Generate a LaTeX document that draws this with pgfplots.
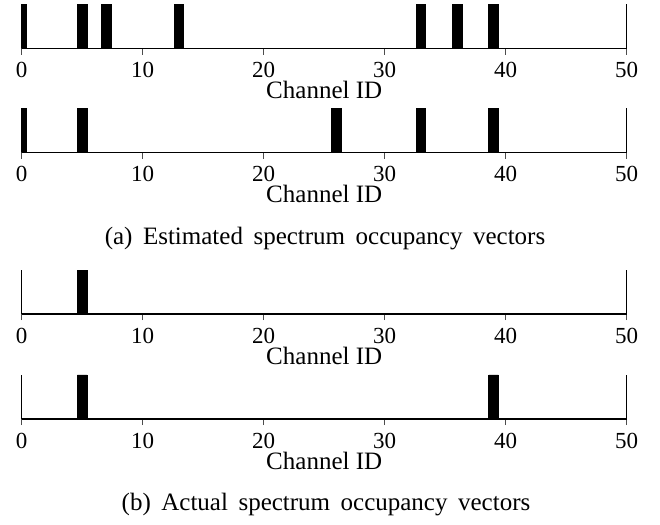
\documentclass[border=0pt]{standalone}
\usepackage{pgfplots}
\pgfplotsset{compat=1.18}
\usepackage{fontspec}
\setmainfont{Liberation Serif}

% one panel: channels 0..50, a black bar for every busy channel
\pgfplotsset{
  occ/.style={
    scale only axis,
    width=242pt, height=17.6pt,
    anchor=south west,
    xmin=0, xmax=50, ymin=0, ymax=1,
    axis x line*=bottom, axis y line*=box,
    xtick={0,10,...,50}, ytick=\empty,
    tick align=inside,
    major tick length=2.5pt,
    tick style={black!70, line width=0.5pt},
    axis line style={line width=0.5pt},
    /pgf/number format/assume math mode=true,
    xticklabel style={font=\fontsize{9.2}{11}\selectfont, anchor=base, yshift=-9.3pt},
    xlabel={Channel ID},
    xlabel style={font=\fontsize{10}{12}\selectfont, at={(axis description cs:0.5,0)}, anchor=base, yshift=-20.2pt},
    ybar, bar width=0.8,
  },
  busy/.style={fill=black, draw=black, line width=0.3pt},
}
\newcommand{\subcap}[1]{{\fontsize{10}{12}\selectfont\spaceskip=4.2pt\relax #1}}

\begin{document}
\begin{tikzpicture}
  % page size of the reference (660 x 520 px, 1 px = 0.4pt)
  \path (0,0) rectangle (660*0.4pt,-520*0.4pt);

  \begin{axis}[occ, at={(21.7*0.4pt,-48.5*0.4pt)}]
    \addplot[busy] coordinates {(0,1) (5,1) (7,1) (13,1) (33,1) (36,1) (39,1)};
  \end{axis}

  \begin{axis}[occ, at={(21.7*0.4pt,-152.5*0.4pt)}]
    \addplot[busy] coordinates {(0,1) (5,1) (26,1) (33,1) (39,1)};
  \end{axis}

  \node[anchor=base] at (325*0.4pt,-245*0.4pt) {\subcap{(a) Estimated spectrum occupancy vectors}};

  \begin{axis}[occ, at={(21.7*0.4pt,-314*0.4pt)}]
    \addplot[busy] coordinates {(5,1)};
  \end{axis}

  \begin{axis}[occ, at={(21.7*0.4pt,-419*0.4pt)}]
    \addplot[busy] coordinates {(5,1) (39,1)};
  \end{axis}

  \node[anchor=base] at (326*0.4pt,-511*0.4pt) {\subcap{(b) Actual spectrum occupancy vectors}};
\end{tikzpicture}
\end{document}
